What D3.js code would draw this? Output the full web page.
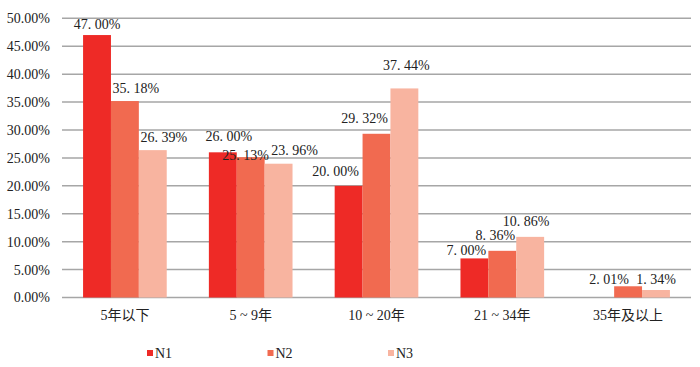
<!DOCTYPE html>
<html>
<head>
<meta charset="utf-8">
<script src="https://cdn.jsdelivr.net/npm/d3@7"></script>
<style>
  html, body { margin: 0; padding: 0; background: #fff; }
  svg { display: block; }
  text { font-family: "Liberation Serif", "Times New Roman", "Noto Sans CJK SC", serif; fill: #222; }
</style>
</head>
<body>
<svg id="chart" width="700" height="367"></svg>
<script>
const categories = ["5年以下", "5 ~ 9年", "10 ~ 20年", "21 ~ 34年", "35年及以上"];
const seriesNames = ["N1", "N2", "N3"];
const n1 = [47.00, 26.00, 20.00, 7.00, null];
const n2 = [35.18, 25.13, 29.32, 8.36, 2.01];
const n3 = [26.39, 23.96, 37.44, 10.86, 1.34];
const yTicks = [0, 5, 10, 15, 20, 25, 30, 35, 40, 45, 50];

// ---- layout / style (not data) ----
const colors = ["#EE2A26", "#F16A50", "#F8B4A0"];
// manual label nudges [dx, dy from bar top] per series, per category (as in the source chart)
const labelNudge = [
  [[0, -6], [6, -11], [-13, -10], [-8, -3], [0, 0]],
  [[11, -8], [-5, 3], [-12, -11], [-7, -11], [-19, -2]],
  [[11, -8], [16, -9], [2, -18], [-4, -11], [0, -6]]
];

const seriesValues = [n1, n2, n3];
const data = [];
categories.forEach((c, i) => {
  seriesNames.forEach((s, j) => {
    data.push({ cat: c, series: s, value: seriesValues[j][i], color: colors[j], nudge: labelNudge[j][i] });
  });
});

const svg = d3.select("#chart");
const plot = { left: 62, right: 691, top: 18.3, bottom: 297.5 };

const x0 = d3.scaleBand().domain(categories).range([plot.left, plot.right])
  .paddingInner(0.335).paddingOuter(0.1675);
const x1 = d3.scaleBand().domain(seriesNames).range([0, x0.bandwidth()]);
const y = d3.scaleLinear().domain([0, 50]).range([plot.bottom, plot.top]);

// gridlines
svg.append("g").selectAll("line").data(yTicks).join("line")
  .attr("x1", plot.left).attr("x2", plot.right)
  .attr("y1", d => y(d)).attr("y2", d => y(d))
  .attr("stroke", "#a6a6a6").attr("stroke-width", 1.5);

// y axis labels
const yAxis = d3.axisLeft(y).tickValues(yTicks).tickSize(0).tickPadding(0)
  .tickFormat(d => d.toFixed(2) + "%");
const yg = svg.append("g").attr("transform", `translate(50,0)`).call(yAxis);
yg.select(".domain").remove();
yg.selectAll("text").attr("font-size", 14).attr("fill", "#222")
  .attr("font-family", "'Liberation Serif', 'Times New Roman', serif");

// bars
const bars = data.filter(d => d.value != null);
svg.append("g").selectAll("rect").data(bars).join("rect")
  .attr("x", d => x0(d.cat) + x1(d.series))
  .attr("y", d => y(d.value))
  .attr("width", x1.bandwidth())
  .attr("height", d => y(0) - y(d.value))
  .attr("fill", d => d.color);

// value labels
svg.append("g").selectAll("text").data(bars).join("text")
  .attr("x", d => x0(d.cat) + x1(d.series) + x1.bandwidth() / 2 + d.nudge[0])
  .attr("y", d => y(d.value) + d.nudge[1])
  .attr("text-anchor", "middle")
  .attr("font-size", 14)
  .text(d => {
    const s = d.value.toFixed(2).split(".");
    return s[0] + ". " + s[1] + "%";
  });

// x axis labels
const xAxis = d3.axisBottom(x0).tickSize(0).tickPadding(0);
const xg = svg.append("g").attr("transform", `translate(0,${plot.bottom + 13})`).call(xAxis);
xg.select(".domain").remove();
xg.selectAll("text").attr("font-size", 14).attr("fill", "#222")
  .attr("font-family", "'Liberation Serif', 'Times New Roman', 'Noto Sans CJK SC', serif");

// legend
const lx = d3.scalePoint().domain(seriesNames).range([147, 388]);
const leg = svg.append("g").selectAll("g").data(seriesNames).join("g")
  .attr("transform", d => `translate(${lx(d)},353)`);
leg.append("rect").attr("x", 0).attr("y", -3).attr("width", 6).attr("height", 6)
  .attr("fill", (d, i) => colors[i]);
leg.append("text").attr("x", 8).attr("y", 5).attr("font-size", 14).text(d => d);
</script>
</body>
</html>
